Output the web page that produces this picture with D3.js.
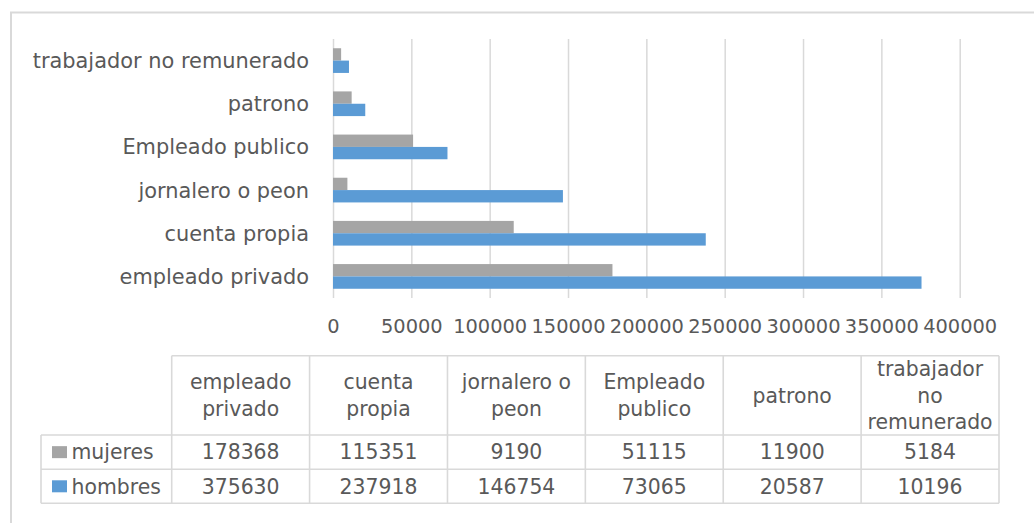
<!DOCTYPE html>
<html>
<head>
<meta charset="utf-8">
<script src="https://cdn.jsdelivr.net/npm/d3@7"></script>
<style>
  html, body { margin: 0; padding: 0; background: #fff; }
  svg { display: block; }
  text { font-family: "DejaVu Sans", sans-serif; fill: #595959; }
</style>
</head>
<body>
<svg id="chart" width="1034" height="523"></svg>
<script>
// Occupational category, in the order of the data table
const categories = ["empleado privado", "cuenta propia", "jornalero o peon", "Empleado publico", "patrono", "trabajador no remunerado"];
const seriesNames = ["mujeres", "hombres"];
const mujeres = [178368, 115351, 9190, 51115, 11900, 5184];
const hombres = [375630, 237918, 146754, 73065, 20587, 10196];
const xTicks = [0, 50000, 100000, 150000, 200000, 250000, 300000, 350000, 400000];
const colors = { mujeres: "#A5A5A5", hombres: "#5B9BD5" };

const svg = d3.select("#chart");
const gridColor = "#d9d9d9";

// outer chart frame (continues past the visible area at right and bottom)
svg.append("rect")
  .attr("x", 11).attr("y", 12.5)
  .attr("width", 1100).attr("height", 600)
  .attr("fill", "none").attr("stroke", gridColor).attr("stroke-width", 2);

const plot = { left: 333, right: 959.7, top: 39, bottom: 298 };

const x = d3.scaleLinear().domain([0, 400000]).range([plot.left, plot.right]);

// bottom category is the first one in the table
const y = d3.scaleBand()
  .domain(categories.slice().reverse())
  .range([plot.top, plot.bottom])
  .paddingInner(0.428)
  .paddingOuter(0.214);

const ySeries = d3.scaleBand().domain(seriesNames).range([0, y.bandwidth()]);

// vertical gridlines
const grid = svg.append("g")
  .attr("transform", `translate(0,${plot.bottom})`)
  .call(d3.axisBottom(x).tickValues(xTicks).tickSize(-(plot.bottom - plot.top)).tickFormat(""));
grid.select(".domain").remove();
grid.selectAll("line").attr("stroke", gridColor).attr("stroke-width", 1.5);

// bars
const rows = categories.map((c, i) => ({ category: c, mujeres: mujeres[i], hombres: hombres[i] }));
const groups = svg.append("g").selectAll("g")
  .data(rows)
  .join("g")
  .attr("transform", d => `translate(0,${y(d.category)})`);

groups.selectAll("rect")
  .data(d => seriesNames.map(s => ({ series: s, value: d[s] })))
  .join("rect")
  .attr("x", x(0))
  .attr("y", d => ySeries(d.series))
  .attr("width", d => x(d.value) - x(0))
  .attr("height", ySeries.bandwidth())
  .attr("fill", d => colors[d.series]);

// value axis labels
const xAxis = svg.append("g")
  .attr("transform", `translate(0,${plot.bottom})`)
  .call(d3.axisBottom(x).tickValues(xTicks).tickSize(0).tickPadding(0).tickFormat(d3.format("d")));
xAxis.select(".domain").remove();
xAxis.selectAll("text")
  .attr("y", 35.3).attr("dy", null)
  .style("font-family", "'DejaVu Sans', sans-serif")
  .style("font-size", "19.4px")
  .attr("fill", "#595959");

// category axis labels
const yAxis = svg.append("g")
  .attr("transform", `translate(${plot.left},0)`)
  .call(d3.axisLeft(y).tickSize(0).tickPadding(24));
yAxis.select(".domain").remove();
yAxis.selectAll("text")
  .attr("dy", "0.36em")
  .style("font-family", "'DejaVu Sans', sans-serif")
  .style("font-size", "20.9px")
  .attr("fill", "#595959");

// data table
const table = { left: 41, legendRight: 171.7, right: 999, headTop: 355.7, headBottom: 435, row1Bottom: 469.3, row2Bottom: 503.3 };
const col = d3.scaleBand().domain(categories).range([table.legendRight, table.right]);
const tableFont = 20.4;
const tg = svg.append("g");

const lineAttrs = sel => sel.attr("stroke", gridColor).attr("stroke-width", 1.6);

// horizontal rules
tg.append("line").attr("x1", table.legendRight).attr("x2", table.right).attr("y1", table.headTop).attr("y2", table.headTop).call(lineAttrs);
[table.headBottom, table.row1Bottom, table.row2Bottom].forEach(yy =>
  tg.append("line").attr("x1", table.left).attr("x2", table.right).attr("y1", yy).attr("y2", yy).call(lineAttrs));
// vertical rules
tg.append("line").attr("x1", table.left).attr("x2", table.left).attr("y1", table.headBottom).attr("y2", table.row2Bottom).call(lineAttrs);
categories.forEach(c =>
  tg.append("line").attr("x1", col(c)).attr("x2", col(c)).attr("y1", table.headTop).attr("y2", table.row2Bottom).call(lineAttrs));
tg.append("line").attr("x1", table.right).attr("x2", table.right).attr("y1", table.headTop).attr("y2", table.row2Bottom).call(lineAttrs);

// word-wrap a header label to the column width
const measurer = svg.append("text").style("font-size", tableFont + "px").attr("visibility", "hidden");
function wrap(label, maxWidth) {
  const words = label.split(" ");
  const lines = [];
  let cur = "";
  words.forEach(w => {
    const trial = cur ? cur + " " + w : w;
    measurer.text(trial);
    if (cur && measurer.node().getComputedTextLength() > maxWidth) {
      lines.push(cur);
      cur = w;
    } else {
      cur = trial;
    }
  });
  if (cur) lines.push(cur);
  return lines;
}

const lineH = 26.6;
const headMid = (table.headTop + table.headBottom) / 2;
categories.forEach(c => {
  const lines = wrap(c, col.bandwidth() - 12);
  const t = tg.append("text")
    .attr("text-anchor", "middle")
    .style("font-size", tableFont + "px");
  lines.forEach((ln, i) => {
    t.append("tspan")
      .attr("x", col(c) + col.bandwidth() / 2)
      .attr("y", headMid + (i - (lines.length - 1) / 2) * lineH)
      .attr("dy", "0.36em")
      .text(ln);
  });
});
measurer.remove();

// value rows with legend keys
const seriesRows = [
  { name: "mujeres", values: mujeres, top: table.headBottom, bottom: table.row1Bottom },
  { name: "hombres", values: hombres, top: table.row1Bottom, bottom: table.row2Bottom }
];
seriesRows.forEach(r => {
  const mid = (r.top + r.bottom) / 2;
  tg.append("rect")
    .attr("x", 52).attr("y", mid - 6)
    .attr("width", 15).attr("height", 12)
    .attr("fill", colors[r.name]);
  tg.append("text")
    .attr("x", 71.5).attr("y", mid).attr("dy", "0.36em")
    .style("font-size", tableFont + "px")
    .text(r.name);
  r.values.forEach((v, i) => {
    tg.append("text")
      .attr("x", col(categories[i]) + col.bandwidth() / 2)
      .attr("y", mid).attr("dy", "0.36em")
      .attr("text-anchor", "middle")
      .style("font-size", tableFont + "px")
      .text(v);
  });
});
</script>
</body>
</html>
